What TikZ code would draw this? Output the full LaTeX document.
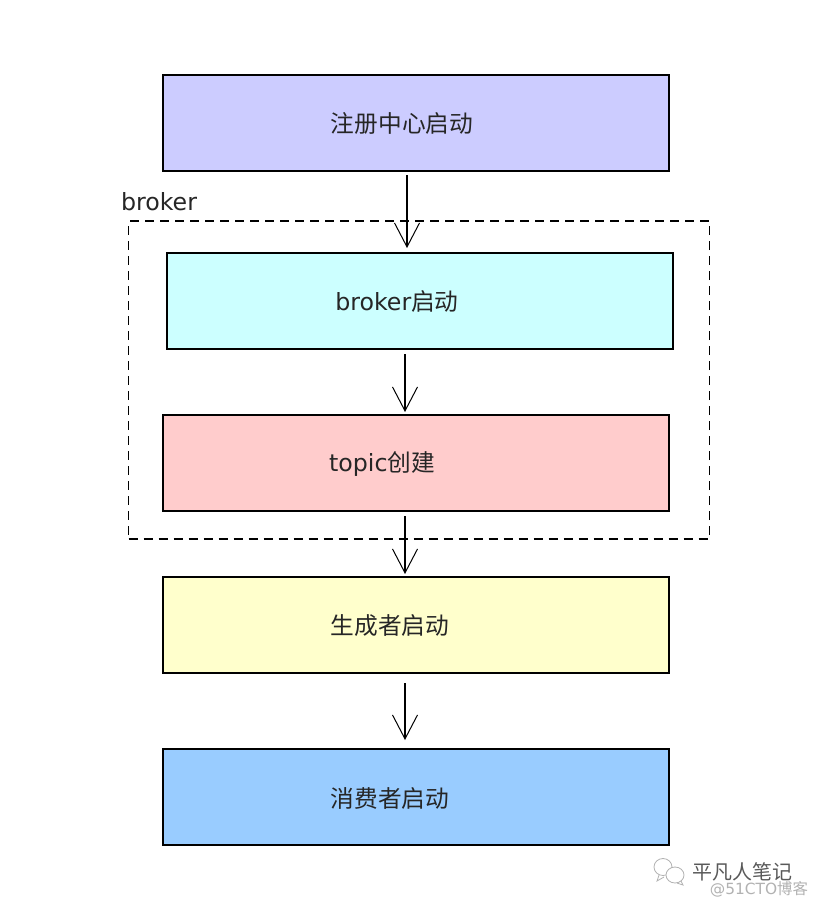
\documentclass[tikz,border=0pt]{standalone}
\usepackage{fontspec}
\setmainfont{DejaVu Sans}
\newfontfamily\cjk{Noto Sans CJK SC}
\usetikzlibrary{arrows.meta}
\tikzset{
	stepbox/.style={draw,line width=2pt,minimum width=506pt,minimum height=96pt,inner sep=0pt},
	steptext/.style={font=\fontsize{23.7pt}{26pt}\selectfont,inner sep=0pt,text=black!85},
	steparrow/.style={-{Straight Barb[length=24pt,width=25pt,line width=1pt]},line width=1.5pt},
	iconline/.style={draw=black!30,line width=0.8pt,fill=white},
}
\definecolor{boxa}{HTML}{CCCCFF}
\definecolor{boxb}{HTML}{CCFFFF}
\definecolor{boxc}{HTML}{FFCCCC}
\definecolor{boxd}{HTML}{FFFFCC}
\definecolor{boxe}{HTML}{99CCFF}
\begin{document}
\begin{tikzpicture}[x=1pt,y=-1pt]
	\useasboundingbox (0,0) rectangle (818,908);
	\fill[white] (0,0) rectangle (818,908);

	\node[stepbox,fill=boxa] (registry) at (416,123) {};
	\node[stepbox,fill=boxb] (broker) at (420,301) {};
	\node[stepbox,fill=boxc] (topic) at (416,463) {};
	\node[stepbox,fill=boxd] (producer) at (416,625) {};
	\node[stepbox,fill=boxe] (consumer) at (416,797) {};

	\node[steptext] (registrytext) at (402,124) {\cjk 注册中心启动};
	\node[steptext] (brokertext) at (397,302) {broker\cjk 启动};
	\node[steptext] (topictext) at (382,464) {topic\cjk 创建};
	\node[steptext] (producertext) at (390,626) {\cjk 生成者启动};
	\node[steptext] (consumertext) at (390,798) {\cjk 消费者启动};

	\node[draw,dash pattern=on 9pt off 6pt,line width=1.6pt,minimum width=581pt,minimum height=318pt,inner sep=0pt] (group) at (419,380) {};
	\node[steptext] (grouptext) at (159,202) {broker};

	\coordinate (a1) at (407,175);
	\coordinate (a2) at (407,248);
	\coordinate (b1) at (405,354);
	\coordinate (b2) at (405,412);
	\coordinate (c1) at (405,516);
	\coordinate (c2) at (405,574);
	\coordinate (d1) at (405,683);
	\coordinate (d2) at (405,740);
	\draw[steparrow] (a1)--(a2);
	\draw[steparrow] (b1)--(b2);
	\draw[steparrow] (c1)--(c2);
	\draw[steparrow] (d1)--(d2);

	% wechat bubbles
	\draw[iconline] (659,875)--(657,881)--(664,877);
	\draw[iconline] (663,867) ellipse (9pt and 8.5pt);
	\draw[iconline] (681,881)--(683,885)--(677,883);
	\draw[iconline] (675,875) ellipse (9pt and 8pt);
	\node[font=\fontsize{20pt}{22pt}\selectfont,text=black!65,inner sep=0pt] (wechat) at (742,872) {\cjk 平凡人笔记};
	\node[font=\fontsize{15.4pt}{17pt}\selectfont,text=black!30,inner sep=0pt] (mark) at (759,889) {@51CTO\cjk 博客};
\end{tikzpicture}
\end{document}
